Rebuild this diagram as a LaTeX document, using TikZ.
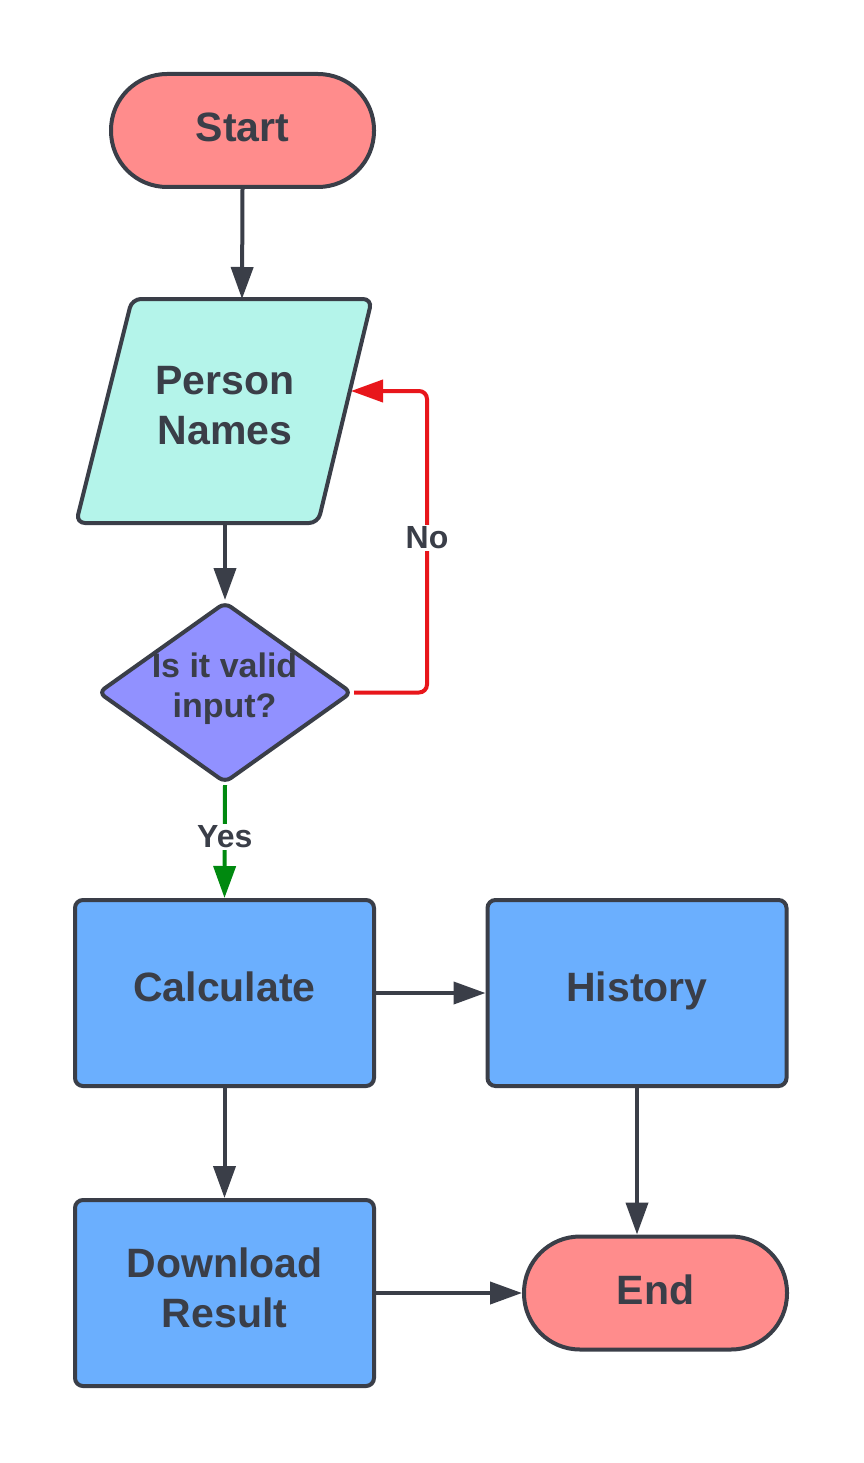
\documentclass[tikz,border=0pt]{standalone}
\usepackage{fontspec}
\setmainfont{Liberation Sans}
\usetikzlibrary{arrows.meta,shapes.geometric}
\definecolor{ink}{HTML}{3A3E48}
\definecolor{startfill}{HTML}{FF8C8C}
\definecolor{parafill}{HTML}{B4F4EA}
\definecolor{decfill}{HTML}{9191FF}
\definecolor{boxfill}{HTML}{6BAFFE}
\definecolor{nored}{HTML}{E8161B}
\definecolor{yesgreen}{HTML}{00890F}
\tikzset{
  base/.style={draw=ink, line width=4pt, text=ink, font=\bfseries\fontsize{41}{50}\selectfont, align=center, inner sep=0pt},
  term/.style={base, fill=startfill, minimum width=263pt, minimum height=113pt, rounded corners=56pt, text height=30pt, text depth=8pt},
  procbox/.style={base, fill=boxfill, minimum width=299pt, minimum height=186pt, rounded corners=8pt},
  onebox/.style={procbox, text height=30pt, text depth=14pt},
  decbox/.style={base, diamond, fill=decfill, minimum width=254pt, minimum height=181pt, rounded corners=7pt},
  conn/.style={draw=ink, line width=4pt, -{Triangle[length=32pt,width=22pt]}},
  lbl/.style={text=ink, font=\bfseries\fontsize{32}{38}\selectfont, fill=white, inner sep=2pt}
}
\begin{document}
\begin{tikzpicture}[x=1pt,y=-1pt]
\useasboundingbox[fill=white] (0,0) rectangle (863,1463);
% terminals
\node[term] (start) at (242.5,130.5) {Start};
\node[term] (end) at (655.5,1293) {End};
% parallelogram (input)
\coordinate (ptop) at (242,299);
\coordinate (pbot) at (225,523);
\coordinate (pright) at (351,391);
\draw[draw=ink, line width=4pt, fill=parafill, rounded corners=9pt]
  (132,299) -- (372,299) -- (318,523) -- (76,523) -- cycle;
\node[base, draw=none] (person) at (225,406) {Person\\Names};
% decision
\node[decbox] (dec) at (225,692.5) {};
\node[base, draw=none, font=\bfseries\fontsize{34}{40}\selectfont] (dectext) at (224.5,689) {Is it valid\\input?};
% process boxes
\node[onebox] (calc) at (224.5,993) {Calculate};
\node[onebox] (hist) at (637,993) {History};
\node[procbox, text depth=10pt] (down) at (224.5,1293) {Download\\Result};
% connectors
\draw[conn] (start.south) -- (ptop);
\draw[conn] (pbot) -- (dec.north);
\draw[conn, draw=nored, rounded corners=8pt] (dec.east) -- (427,692.5) -- (427,391) -- (pright);
\node[lbl] (nolbl) at (427,538) {No};
\draw[conn, draw=yesgreen] (dec.south) -- (calc.north) node[lbl, pos=0.46] (yeslbl) {Yes};
\draw[conn] (calc.east |- 0,993) -- (hist.west);
\draw[conn] (calc.south) -- (down.north);
\draw[conn] (hist.south) -- (hist.south |- end.north);
\draw[conn] (down.east) -- (end.west);
\end{tikzpicture}
\end{document}
